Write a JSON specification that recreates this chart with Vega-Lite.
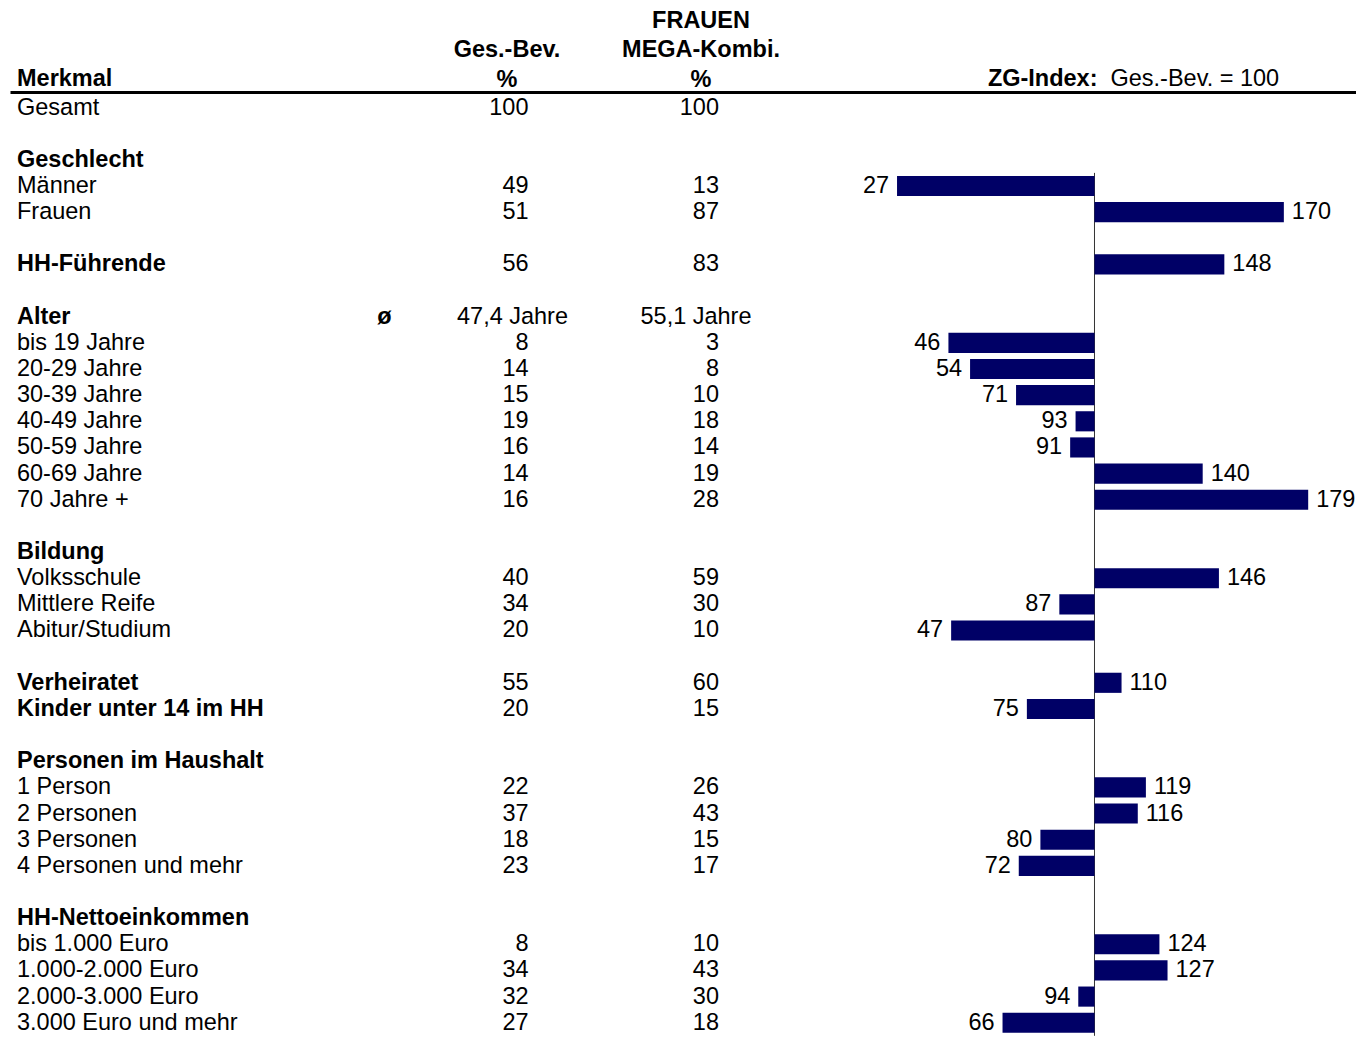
{
  "$schema": "https://vega.github.io/schema/vega-lite/v6.json",
  "padding": {"left": 9, "top": 0.5, "right": 0, "bottom": 0},
  "bounds": "flush",
  "spacing": 0,
  "config": {
    "view": {"stroke": null},
    "font": "Liberation Sans",
    "text": {"fontSize": 23.5, "color": "#000000", "baseline": "middle"}
  },
  "datasets": {
    "rows": [
      {"row": "Gesamt", "level": "item", "ges": 100, "mega": 100},
      {"row": "Geschlecht", "level": "group"},
      {"row": "Männer", "level": "item", "ges": 49, "mega": 13, "idx": 27},
      {"row": "Frauen", "level": "item", "ges": 51, "mega": 87, "idx": 170},
      {"row": "HH-Führende", "level": "group", "ges": 56, "mega": 83, "idx": 148},
      {"row": "Alter", "level": "group", "ges_avg": "47,4 Jahre", "mega_avg": "55,1 Jahre"},
      {"row": "bis 19 Jahre", "level": "item", "ges": 8, "mega": 3, "idx": 46},
      {"row": "20-29 Jahre", "level": "item", "ges": 14, "mega": 8, "idx": 54},
      {"row": "30-39 Jahre", "level": "item", "ges": 15, "mega": 10, "idx": 71},
      {"row": "40-49 Jahre", "level": "item", "ges": 19, "mega": 18, "idx": 93},
      {"row": "50-59 Jahre", "level": "item", "ges": 16, "mega": 14, "idx": 91},
      {"row": "60-69 Jahre", "level": "item", "ges": 14, "mega": 19, "idx": 140},
      {"row": "70 Jahre +", "level": "item", "ges": 16, "mega": 28, "idx": 179},
      {"row": "Bildung", "level": "group"},
      {"row": "Volksschule", "level": "item", "ges": 40, "mega": 59, "idx": 146},
      {"row": "Mittlere Reife", "level": "item", "ges": 34, "mega": 30, "idx": 87},
      {"row": "Abitur/Studium", "level": "item", "ges": 20, "mega": 10, "idx": 47},
      {"row": "Verheiratet", "level": "group", "ges": 55, "mega": 60, "idx": 110},
      {"row": "Kinder unter 14 im HH", "level": "group", "ges": 20, "mega": 15, "idx": 75},
      {"row": "Personen im Haushalt", "level": "group"},
      {"row": "1 Person", "level": "item", "ges": 22, "mega": 26, "idx": 119},
      {"row": "2 Personen", "level": "item", "ges": 37, "mega": 43, "idx": 116},
      {"row": "3 Personen", "level": "item", "ges": 18, "mega": 15, "idx": 80},
      {"row": "4 Personen und mehr", "level": "item", "ges": 23, "mega": 17, "idx": 72},
      {"row": "HH-Nettoeinkommen", "level": "group"},
      {"row": "bis 1.000 Euro", "level": "item", "ges": 8, "mega": 10, "idx": 124},
      {"row": "1.000-2.000 Euro", "level": "item", "ges": 34, "mega": 43, "idx": 127},
      {"row": "2.000-3.000 Euro", "level": "item", "ges": 32, "mega": 30, "idx": 94},
      {"row": "3.000 Euro und mehr", "level": "item", "ges": 27, "mega": 18, "idx": 66}
    ]
  },
  "resolve": {"scale": {"x": "independent", "y": "shared"}},
  "hconcat": [
    {
      "width": 372.5,
      "height": 1050.8,
      "data": {"name": "rows"},
      "layer": [
        {
          "data": {"values": [{}]},
          "mark": {"type": "rule", "strokeWidth": 3, "color": "#000000", "strokeCap": "square", "yOffset": -2},
          "encoding": {
            "y": {"datum": "Gesamt", "type": "nominal", "bandPosition": 0,
              "scale": {"domain": ["H1","H2","H3","Gesamt","g1","Geschlecht","Männer","Frauen","g2","HH-Führende","g3","Alter","bis 19 Jahre","20-29 Jahre","30-39 Jahre","40-49 Jahre","50-59 Jahre","60-69 Jahre","70 Jahre +","g4","Bildung","Volksschule","Mittlere Reife","Abitur/Studium","g5","Verheiratet","Kinder unter 14 im HH","g6","Personen im Haushalt","1 Person","2 Personen","3 Personen","4 Personen und mehr","g7","HH-Nettoeinkommen","bis 1.000 Euro","1.000-2.000 Euro","2.000-3.000 Euro","3.000 Euro und mehr"], "paddingInner": 0, "paddingOuter": 0.592},
              "axis": null}
          }
        },
        {
          "data": {"values": [{}]},
          "mark": {"type": "text", "text": "Merkmal", "fontWeight": "bold", "align": "left", "dx": 5, "dy": -2},
          "encoding": {
            "x": {"datum": "L", "type": "nominal", "scale": {"type": "point", "padding": 0, "domain": ["L", "R"]}, "axis": null},
            "y": {"datum": "H3", "type": "nominal"}
          }
        },
        {
          "transform": [{"filter": {"field": "level", "equal": "group"}}],
          "mark": {"type": "text", "fontWeight": "bold", "align": "left", "dx": 5},
          "encoding": {
            "x": {"datum": "L", "type": "nominal"},
            "y": {"field": "row", "type": "nominal"},
            "text": {"field": "row", "type": "nominal"}
          }
        },
        {
          "transform": [{"filter": {"field": "level", "equal": "item"}}],
          "mark": {"type": "text", "align": "left", "dx": 5},
          "encoding": {
            "x": {"datum": "L", "type": "nominal"},
            "y": {"field": "row", "type": "nominal"},
            "text": {"field": "row", "type": "nominal"}
          }
        },
        {
          "transform": [{"filter": "isValid(datum.ges_avg)"}],
          "mark": {"type": "text", "text": "ø", "fontWeight": "bold", "align": "center"},
          "encoding": {
            "x": {"datum": "R", "type": "nominal"},
            "y": {"field": "row", "type": "nominal"}
          }
        }
      ]
    },
    {
      "width": 143.5,
      "height": 1050.8,
      "data": {"name": "rows"},
      "layer": [
        {
          "data": {"values": [{}]},
          "mark": {"type": "rule", "strokeWidth": 3, "color": "#000000", "strokeCap": "square", "yOffset": -2},
          "encoding": {"y": {"datum": "Gesamt", "type": "nominal", "bandPosition": 0, "axis": null}}
        },
        {
          "data": {"values": [{}]},
          "mark": {"type": "text", "text": ["\u00a0", "Ges.-Bev.", "%"], "fontWeight": "bold", "align": "center", "baseline": "alphabetic", "lineHeight": 29.5, "dx": -21.5, "dy": -1.5},
          "encoding": {
            "x": {"datum": "R", "type": "nominal", "scale": {"type": "point", "padding": 0, "domain": ["L", "R"]}, "axis": null},
            "y": {"datum": "H1", "type": "nominal", "axis": null}
          }
        },
        {
          "transform": [{"filter": {"field": "ges", "valid": true}}],
          "mark": {"type": "text", "align": "right"},
          "encoding": {
            "x": {"datum": "R", "type": "nominal"},
            "y": {"field": "row", "type": "nominal", "axis": null},
            "text": {"field": "ges", "type": "quantitative"}
          }
        },
        {
          "transform": [{"filter": "isValid(datum.ges_avg)"}],
          "mark": {"type": "text", "align": "center", "dx": -16},
          "encoding": {
            "x": {"datum": "R", "type": "nominal"},
            "y": {"field": "row", "type": "nominal", "axis": null},
            "text": {"field": "ges_avg", "type": "nominal"}
          }
        }
      ]
    },
    {
      "width": 190,
      "height": 1050.8,
      "data": {"name": "rows"},
      "layer": [
        {
          "data": {"values": [{}]},
          "mark": {"type": "rule", "strokeWidth": 3, "color": "#000000", "strokeCap": "square", "yOffset": -2},
          "encoding": {"y": {"datum": "Gesamt", "type": "nominal", "bandPosition": 0, "axis": null}}
        },
        {
          "data": {"values": [{}]},
          "mark": {"type": "text", "text": ["FRAUEN", "MEGA-Kombi.", "%"], "fontWeight": "bold", "align": "center", "baseline": "alphabetic", "lineHeight": 29.5, "dx": -18, "dy": -1.5},
          "encoding": {
            "x": {"datum": "R", "type": "nominal", "scale": {"type": "point", "padding": 0, "domain": ["L", "R"]}, "axis": null},
            "y": {"datum": "H1", "type": "nominal", "axis": null}
          }
        },
        {
          "transform": [{"filter": {"field": "mega", "valid": true}}],
          "mark": {"type": "text", "align": "right"},
          "encoding": {
            "x": {"datum": "R", "type": "nominal"},
            "y": {"field": "row", "type": "nominal", "axis": null},
            "text": {"field": "mega", "type": "quantitative"}
          }
        },
        {
          "transform": [{"filter": "isValid(datum.mega_avg)"}],
          "mark": {"type": "text", "align": "center", "dx": -23},
          "encoding": {
            "x": {"datum": "R", "type": "nominal"},
            "y": {"field": "row", "type": "nominal", "axis": null},
            "text": {"field": "mega_avg", "type": "nominal"}
          }
        }
      ]
    },
    {
      "width": 105,
      "height": 1050.8,
      "data": {"values": [{}]},
      "mark": {"type": "rule", "strokeWidth": 3, "color": "#000000", "strokeCap": "square", "yOffset": -2},
      "encoding": {"y": {"datum": "Gesamt", "type": "nominal", "bandPosition": 0, "axis": null}}
    },
    {
      "width": 541,
      "height": 1050.8,
      "data": {"name": "rows"},
      "layer": [
        {
          "data": {"values": [{}]},
          "mark": {"type": "rule", "strokeWidth": 3, "color": "#000000", "strokeCap": "square", "yOffset": -2},
          "encoding": {"y": {"datum": "Gesamt", "type": "nominal", "bandPosition": 0, "axis": null}}
        },
        {
          "data": {"values": [{}]},
          "mark": {"type": "text", "text": "ZG-Index:", "fontWeight": "bold", "align": "right", "dx": 3, "dy": -2},
          "encoding": {
            "x": {"datum": 100, "type": "quantitative", "scale": {"domain": [0, 200], "nice": false, "zero": false}, "axis": null},
            "y": {"datum": "H3", "type": "nominal", "axis": null}
          }
        },
        {
          "data": {"values": [{}]},
          "mark": {"type": "text", "text": "Ges.-Bev. = 100", "align": "left", "dx": 16, "dy": -2},
          "encoding": {
            "x": {"datum": 100, "type": "quantitative"},
            "y": {"datum": "H3", "type": "nominal", "axis": null}
          }
        },
        {
          "data": {"values": [{}]},
          "mark": {"type": "rule", "strokeWidth": 1, "color": "#333333"},
          "encoding": {
            "x": {"datum": 100, "type": "quantitative"},
            "y": {"datum": "Männer", "type": "nominal", "bandPosition": 0, "axis": null},
            "y2": {"datum": "3.000 Euro und mehr", "bandPosition": 1}
          }
        },
        {
          "transform": [{"filter": {"field": "idx", "valid": true}}],
          "mark": {"type": "bar", "color": "#000066", "height": {"band": 0.77}},
          "encoding": {
            "x": {"field": "idx", "type": "quantitative"},
            "x2": {"datum": 100},
            "y": {"field": "row", "type": "nominal", "axis": null}
          }
        },
        {
          "transform": [{"filter": "datum.idx > 100"}],
          "mark": {"type": "text", "align": "left", "dx": 8},
          "encoding": {
            "x": {"field": "idx", "type": "quantitative"},
            "y": {"field": "row", "type": "nominal", "axis": null},
            "text": {"field": "idx", "type": "quantitative"}
          }
        },
        {
          "transform": [{"filter": "datum.idx < 100"}],
          "mark": {"type": "text", "align": "right", "dx": -8},
          "encoding": {
            "x": {"field": "idx", "type": "quantitative"},
            "y": {"field": "row", "type": "nominal", "axis": null},
            "text": {"field": "idx", "type": "quantitative"}
          }
        }
      ]
    }
  ]
}
